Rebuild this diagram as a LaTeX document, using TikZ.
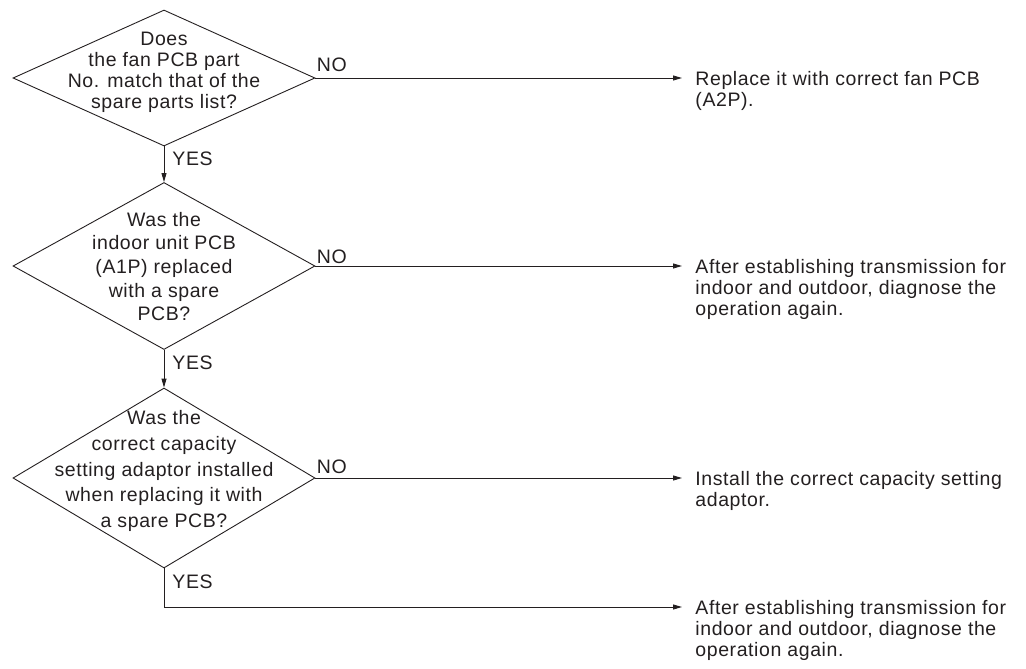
\documentclass[tikz,border=0pt]{standalone}
\usepackage{fontspec}
\setmainfont[LetterSpace=3]{Liberation Sans}
\usepackage{tikz}
\usetikzlibrary{arrows.meta, shapes.geometric}

\definecolor{ink}{HTML}{231F20}

\begin{document}
\begin{tikzpicture}[x=1pt, y=-1pt, >={Triangle[length=9pt,width=5pt]},
    line width=0.9pt, draw=ink, text=ink,
    every node/.style={inner sep=0pt, font=\fontsize{19.5}{21}\selectfont},
    decision/.style={draw, shape=diamond, minimum width=302pt},
    question/.style={align=center},
    answer/.style={align=left, anchor=north west, xshift=13pt, yshift=7pt}]
    \useasboundingbox (0,0) rectangle (1026,669);

    % 判断框
    \node[decision, minimum height=136pt] (d1) at (164,78) {};
    \node[decision, minimum height=167pt] (d2) at (164,266) {};
    \node[decision, minimum height=180pt] (d3) at (164,478) {};

    % 判断文字
    \node[question] (q1) at (164,72.7) {Does\\the fan PCB part\\No. match that of the\\spare parts list?};
    \node[question, font=\fontsize{19.5}{23.7}\selectfont] (q2) at (164,266.5) {Was the\\indoor unit PCB\\(A1P) replaced\\with a spare\\PCB?};
    \node[question, font=\fontsize{19.5}{25.7}\selectfont] (q3) at (164,471) {Was the\\correct capacity\\setting adaptor installed\\when replacing it with\\a spare PCB?};

    % 箭头终点
    \coordinate (tip1) at (682,78);
    \coordinate (tip2) at (682,266);
    \coordinate (tip3) at (682,478);
    \coordinate (tip4) at (682,607);

    % 处理结果
    \node[answer] (r1) at (tip1) {Replace it with correct fan PCB\\(A2P).};
    \node[answer] (r2) at (tip2) {After establishing transmission for\\indoor and outdoor, diagnose the\\operation again.};
    \node[answer] (r3) at (tip3) {Install the correct capacity setting\\adaptor.};
    \node[answer] (r4) at (tip4) {After establishing transmission for\\indoor and outdoor, diagnose the\\operation again.};

    % 箭头
    \draw[->] (d1.south) -- (d2.north);
    \draw[->] (d2.south) -- (d3.north);
    \draw[->] (d1.east) -- (tip1);
    \draw[->] (d2.east) -- (tip2);
    \draw[->] (d3.east) -- (tip3);
    \draw[->] (d3.south) |- (tip4);

    % YES / NO 标签
    \node[anchor=base west, xshift=1pt, yshift=6pt] (no1) at (d1.east) {NO};
    \node[anchor=base west, xshift=1pt, yshift=3pt] (no2) at (d2.east) {NO};
    \node[anchor=base west, xshift=1pt, yshift=5pt] (no3) at (d3.east) {NO};
    \node[anchor=base west, xshift=8pt, yshift=-19pt] (yes1) at (d1.south) {YES};
    \node[anchor=base west, xshift=8pt, yshift=-20pt] (yes2) at (d2.south) {YES};
    \node[anchor=base west, xshift=8pt, yshift=-20pt] (yes3) at (d3.south) {YES};
\end{tikzpicture}
\end{document}
